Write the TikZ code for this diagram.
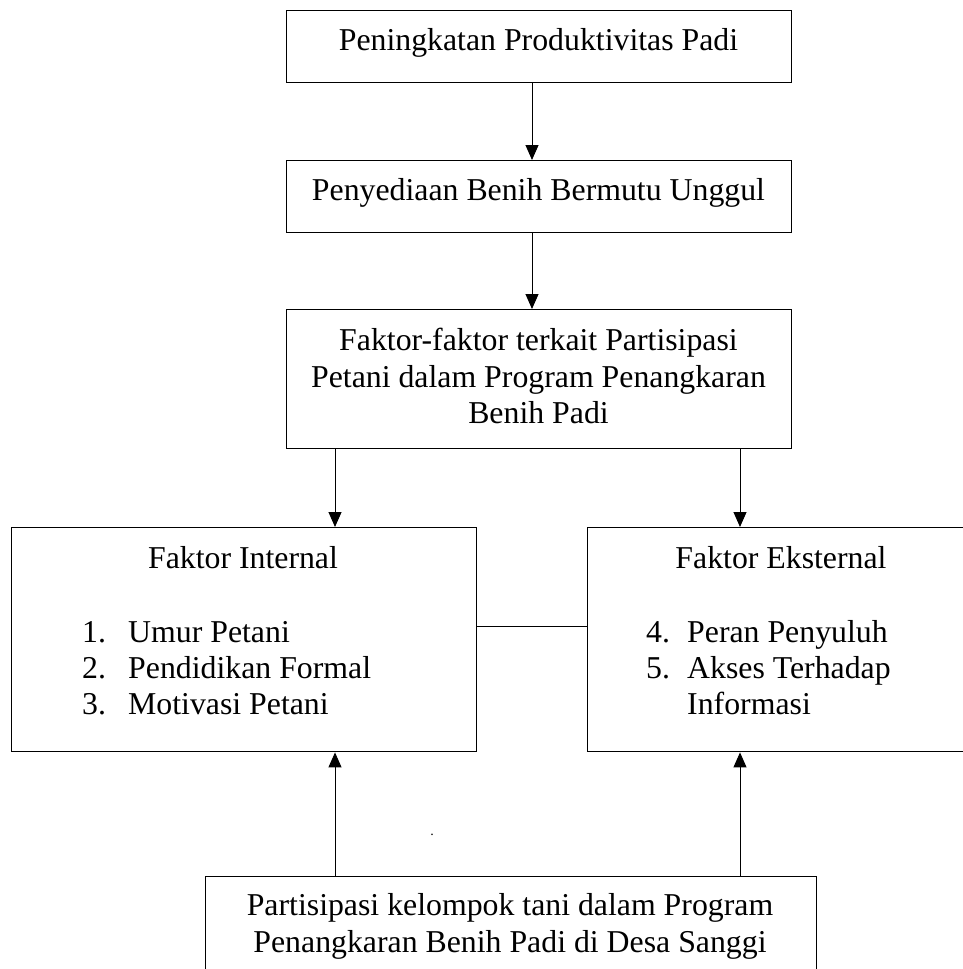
\documentclass[tikz,border=0pt]{standalone}
\usepackage{fontspec}
\setmainfont{Liberation Serif}
\usetikzlibrary{arrows.meta}
\begin{document}
\begin{tikzpicture}[x=1pt,y=-1pt,
  box/.style={draw,line width=1.4pt,inner sep=0pt,anchor=north west},
  txt/.style={anchor=base,inner sep=0pt,font=\fontsize{31.8}{36}\selectfont},
  ltxt/.style={anchor=base west,inner sep=0pt,font=\fontsize{31.8}{36}\selectfont},
  conn/.style={line width=1pt,-{Triangle[length=15pt,width=13pt]}},
  link/.style={line width=1pt}]
\useasboundingbox (0,0) rectangle (963,969);
\clip (0,0) rectangle (963,969);
% boxes
\node[box,minimum width=505pt,minimum height=72pt] (b1) at (286,10) {};
\node[box,minimum width=505pt,minimum height=72pt] (b2) at (286,160) {};
\node[box,minimum width=505pt,minimum height=139pt] (b3) at (286,309) {};
\node[box,minimum width=465pt,minimum height=224pt] (bi) at (11,527) {};
\node[box,minimum width=400pt,minimum height=224pt] (be) at (587,527) {};
\node[box,minimum width=611pt,minimum height=140pt] (bp) at (205,876) {};
% texts
\node[txt] (t1) at (538.5,50) {Peningkatan Produktivitas Padi};
\node[txt] (t2) at (538.5,200) {Penyediaan Benih Bermutu Unggul};
\node[txt] (t3a) at (538.5,350) {Faktor-faktor terkait Partisipasi};
\node[txt] (t3b) at (538.5,387) {Petani dalam Program Penangkaran};
\node[txt] (t3c) at (538.5,423) {Benih Padi};
\node[txt] (ti) at (243,568) {Faktor Internal};
\node[ltxt] (n1) at (82,642) {1.};
\node[ltxt] (i1) at (128,642) {Umur Petani};
\node[ltxt] (n2) at (82,678) {2.};
\node[ltxt] (i2) at (128,678) {Pendidikan Formal};
\node[ltxt] (n3) at (82,714) {3.};
\node[ltxt] (i3) at (128,714) {Motivasi Petani};
\node[txt] (te) at (781,568) {Faktor Eksternal};
\node[ltxt] (n4) at (646,642) {4.};
\node[ltxt] (e1) at (687,642) {Peran Penyuluh};
\node[ltxt] (n5) at (646,678) {5.};
\node[ltxt] (e2) at (687,678) {Akses Terhadap};
\node[ltxt] (e3) at (687,714) {Informasi};
\node[txt] (tp1) at (510,915) {Partisipasi kelompok tani dalam Program};
\node[txt] (tp2) at (510,952) {Penangkaran Benih Padi di Desa Sanggi};
\node[anchor=base,inner sep=0pt,font=\fontsize{14}{14}\selectfont] (dot) at (432,835) {.};
% connectors
\coordinate (xa) at (532,0);
\coordinate (xl) at (335,0);
\coordinate (xr) at (740,0);
\coordinate (ylink) at (0,626);
\draw[conn] (b1.south -| xa) -- (b2.north -| xa);
\draw[conn] (b2.south -| xa) -- (b3.north -| xa);
\draw[conn] (b3.south -| xl) -- (bi.north -| xl);
\draw[conn] (b3.south -| xr) -- (be.north -| xr);
\draw[conn] (bp.north -| xl) -- (bi.south -| xl);
\draw[conn] (bp.north -| xr) -- (be.south -| xr);
\draw[link] (bi.east |- ylink) -- (be.west |- ylink);
\end{tikzpicture}
\end{document}
